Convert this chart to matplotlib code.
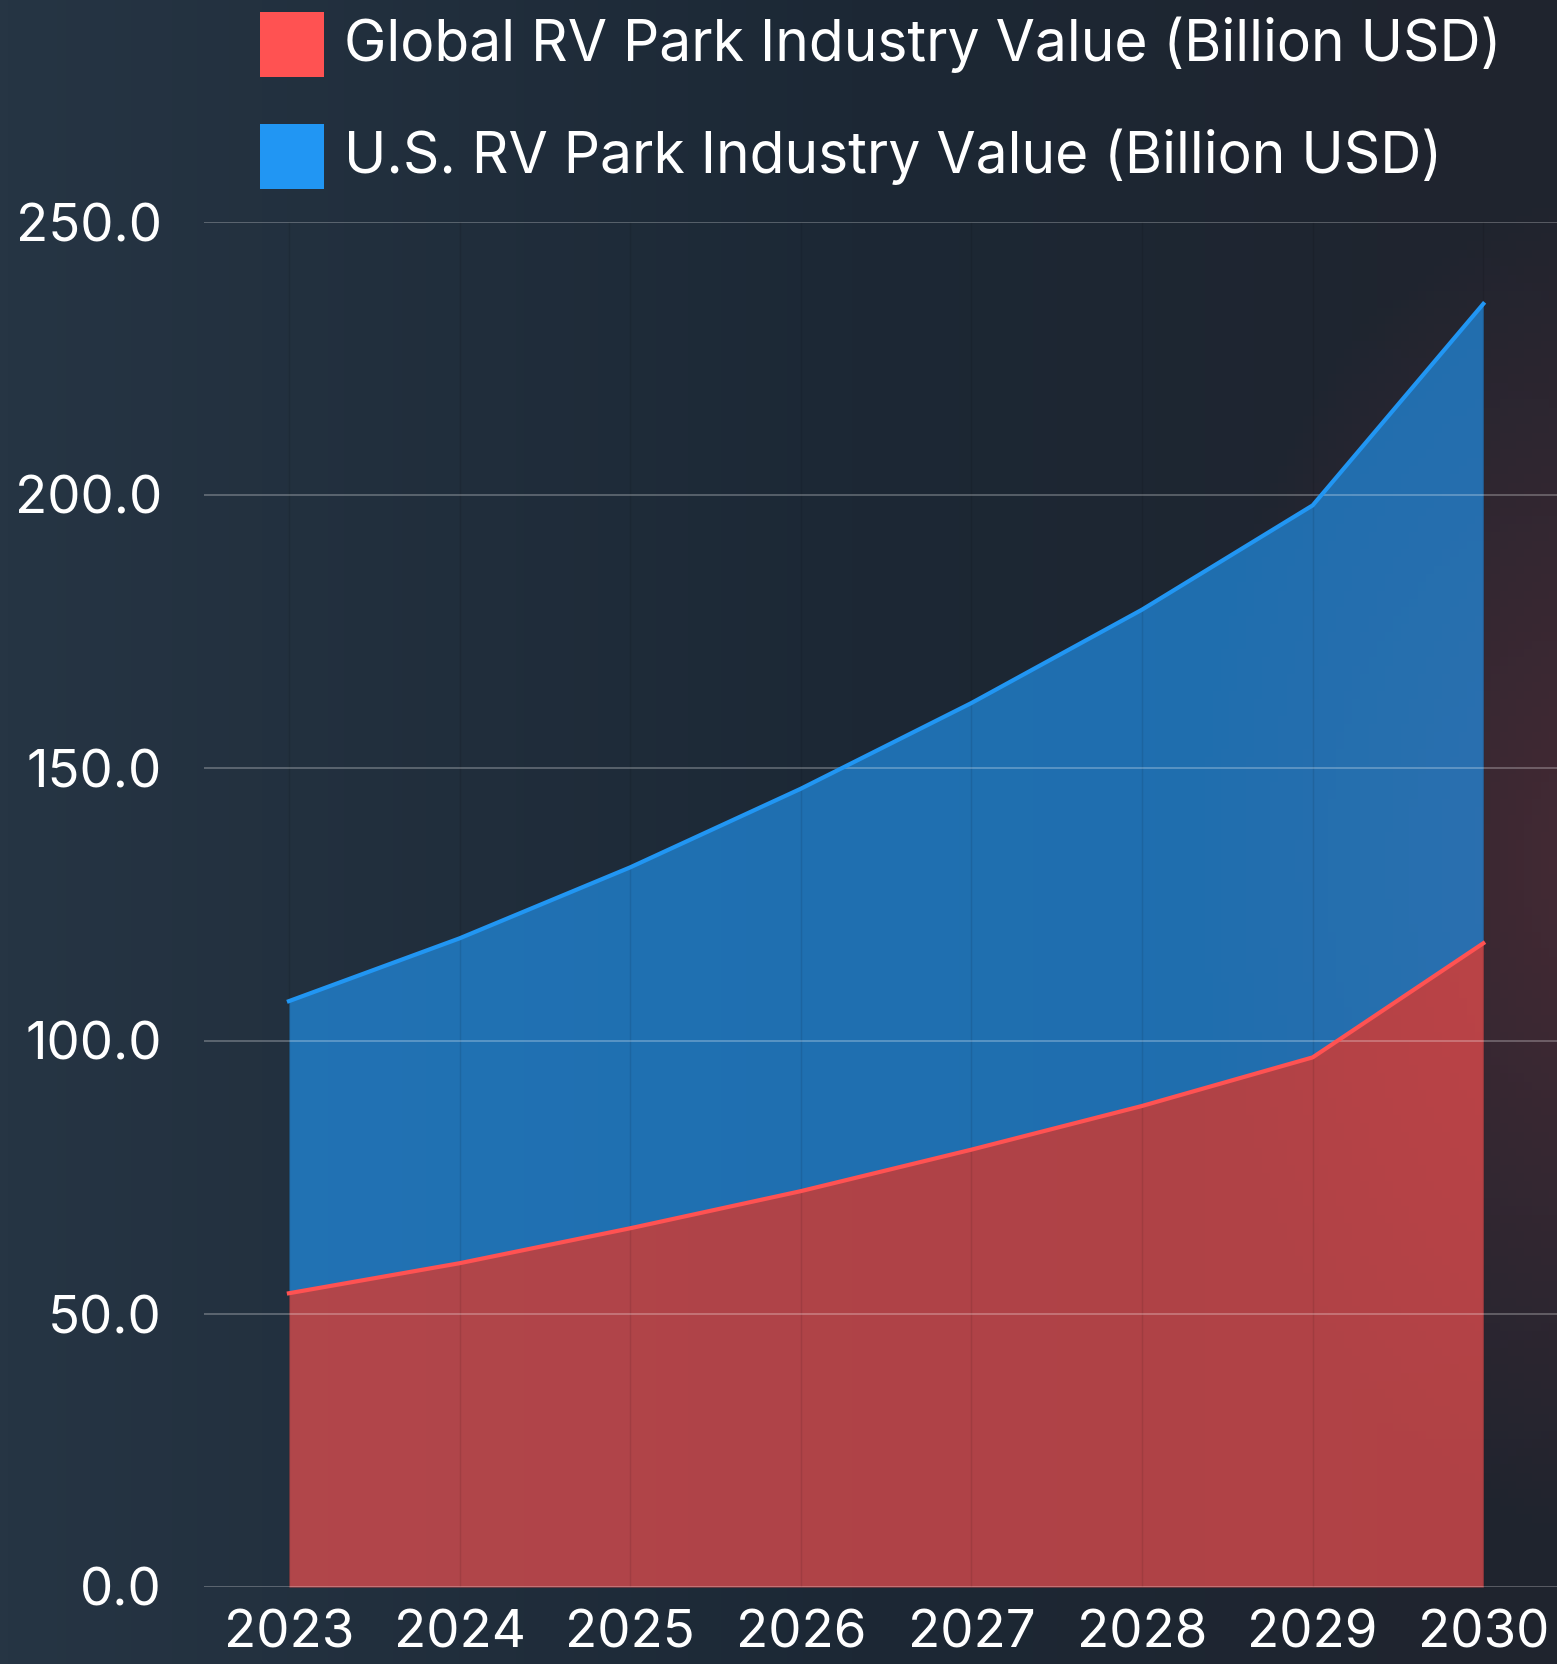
import numpy as np
import matplotlib
matplotlib.use("Agg")
import matplotlib.pyplot as plt
from matplotlib.patches import Rectangle

plt.rcParams['font.family'] = ['Inter', 'DejaVu Sans']

# data (stacked: US sits on top of Global)
years = ['2023', '2024', '2025', '2026', '2027', '2028', '2029', '2030']
global_value = [53.8, 59.3, 65.7, 72.5, 80.1, 88.1, 97.0, 117.9]
us_value = [53.5, 59.5, 66.1, 73.7, 81.8, 90.9, 101.1, 117.1]
y_ticks = [0, 50, 100, 150, 200, 250]
labels = ['Global RV Park Industry Value (Billion USD)',
          'U.S. RV Park Industry Value (Billion USD)']

red = '#ff5252'
blue = '#2196f3'

W, H = 1557, 1664
fig = plt.figure(figsize=(W / 100, H / 100), dpi=100)

# dark background with a faint reddish glow on the right
bg_ax = fig.add_axes([0, 0, 1, 1], zorder=-5)
ny, nx = 200, 190
yy, xx = np.mgrid[0:1:ny * 1j, 0:1:nx * 1j]
left_c = np.array([38, 53, 68]) / 255
mid_c = np.array([28, 40, 53]) / 255
right_c = np.array([32, 36, 46]) / 255
t = np.clip(xx / 0.55, 0, 1)[..., None]
base = left_c * (1 - t) + mid_c * t
t2 = np.clip((xx - 0.55) / 0.45, 0, 1)[..., None]
base = base * (1 - t2) + right_c * t2
glow_c = np.array([70, 42, 52]) / 255
d = np.sqrt(((xx - 1.03) / 0.26) ** 2 + ((yy - 0.52) / 0.40) ** 2)
g = np.clip(1 - d, 0, 1)[..., None] ** 0.9
img = base * (1 - g) + glow_c * g
bg_ax.imshow(img, aspect='auto', extent=[0, 1, 0, 1], origin='upper')
bg_ax.axis('off')

# main axes, placed in pixel terms
x0, x1 = 203.6, 1568.6
y_bot, y_top = 1587, 222
ax = fig.add_axes([x0 / W, 1 - y_bot / H, (x1 - x0) / W, (y_bot - y_top) / H])
ax.set_facecolor('none')

x = np.arange(len(years))
gv = np.array(global_value)
top = gv + np.array(us_value)

ax.fill_between(x, 0, gv, color=red, alpha=0.65, lw=0, zorder=1)
ax.fill_between(x, gv, top, color=blue, alpha=0.65, lw=0, zorder=1)
ax.plot(x, gv, color=red, lw=3, zorder=3, solid_joinstyle='round')
ax.plot(x, top, color=blue, lw=3, zorder=3, solid_joinstyle='round')

ax.set_xlim(-0.5, 7.5)
ax.set_ylim(0, 250)
ax.set_xticks(x)
ax.set_xticklabels(years)
ax.set_yticks(y_ticks)
ax.set_yticklabels([f'{v:.1f}' for v in y_ticks])

for s in ax.spines.values():
    s.set_visible(False)
ax.tick_params(axis='both', length=0, labelcolor='white', labelsize=38)
ax.tick_params(axis='y', pad=30)
ax.tick_params(axis='x', pad=16)

ax.grid(axis='y', color='white', alpha=0.28, lw=1.3, zorder=2)
ax.grid(axis='x', color='black', alpha=0.09, lw=1.0, zorder=2)
ax.set_axisbelow(False)

# legend drawn by hand at the top
for i, (lab, col) in enumerate(zip(labels, [red, blue])):
    top_px = 12 + i * 112
    fig.add_artist(Rectangle((259.5 / W, 1 - (top_px + 65) / H), 64.5 / W, 65 / H,
                             transform=fig.transFigure, color=col, lw=0))
    fig.text(344 / W, 1 - (top_px + 49) / H, lab, color='white', fontsize=41,
             va='baseline', ha='left')

fig.savefig('out.png', dpi=100)
